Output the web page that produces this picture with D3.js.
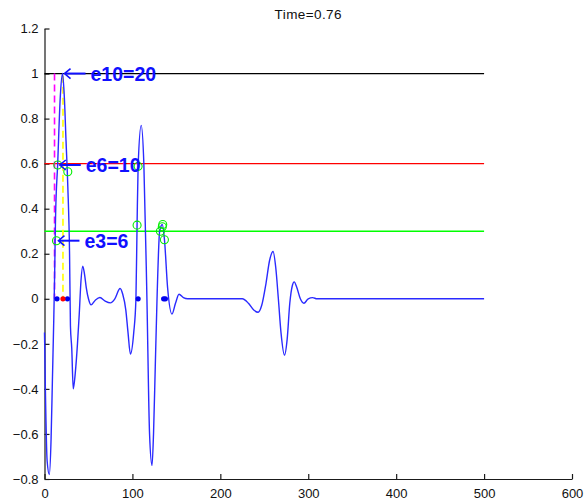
<!DOCTYPE html>
<html><head><meta charset="utf-8">
<script src="https://cdn.jsdelivr.net/npm/d3@7"></script>
<style>body{margin:0;background:#fff}svg{display:block}</style>
</head><body>
<script>
// ---- data ----
const sigX = [0,1,3,5.5,7.5,9,10.5,11.5,12.5,15,18,20.5,22.5,24.5,26.5,28.5,29.5,31,32.7,35,37.5,39.5,41.5,43.5,45.5,47.5,50,53,58,63,69,75,80,86,89,92.5,95,97.7,101.5,104,105.3,106.5,110,113,116.5,119.5,122.3,124,126,128,131,134,136.5,140,145,149,153,158,163,225,232,238,243,247,252,256,260,263,266,269,273,276,279,282,284,287,291,295,300,305,310,500];
const sigY = [-0.15,-0.4,-0.72,-0.78,-0.62,-0.36,-0.1,0.1,0.35,0.6,0.9,1.0,0.9,0.7,0.5,0.2,-0.12,-0.22,-0.4,-0.33,-0.2,-0.07,0.08,0.145,0.11,0.05,0.0,-0.027,-0.005,0.006,-0.01,-0.018,0.0,0.046,0.02,-0.05,-0.15,-0.245,-0.15,0.0,0.33,0.59,0.77,0.6,0.0,-0.6,-0.74,-0.6,-0.3,0.0,0.3,0.33,0.26,0.05,-0.068,-0.02,0.02,0.005,0,0,-0.02,-0.05,-0.06,-0.03,0.07,0.17,0.21,0.14,0.0,-0.15,-0.25,-0.18,-0.02,0.06,0.075,0.05,0.0,-0.02,0.0,0.005,0,0];
const levelValues = [1.0, 0.6, 0.3];
const levelColors = ["#000000", "#ff0000", "#00ff00"];
const levelEnd = 500;
const circX = [15.1,26.5,13.6,106.5,105.3,134.5,134.0,131.8,136.4];
const circY = [0.594,0.564,0.258,0.588,0.327,0.33,0.32,0.30,0.262];
const dotX = [14.2,26.1,106.5,135.5,137.5];
const redDotX = [21];
const vLineX = [11.4, 21];
const vLineTop = [1.0, 0.99];
const vLineColors = ["#ff00ff", "#ffff00"];
const annLabels = ["e10=20","e6=10","e3=6"];
const annX = [20.5,15.1,13.6];
const annY = [1.0,0.594,0.258];
const xTicks = [0,100,200,300,400,500,600];
const yTicks = [-0.8,-0.6,-0.4,-0.2,0,0.2,0.4,0.6,0.8,1,1.2];
const title = "Time=0.76";

// ---- chart ----
const W = 587, H = 504;
const svg = d3.select("body").append("svg").attr("width", W).attr("height", H);
const x = d3.scaleLinear().domain([0,600]).range([44.5,572]);
const y = d3.scaleLinear().domain([-0.8,1.2]).range([479,28.5]);
const font = "'Liberation Sans', Arial, Helvetica, sans-serif";

// axes
const xa = svg.append("g").attr("transform", `translate(0,${y(-0.8)})`)
  .call(d3.axisBottom(x).tickValues(xTicks).tickFormat(d3.format("d")).tickSizeInner(-5).tickSizeOuter(0).tickPadding(10));
const ya = svg.append("g").attr("transform", `translate(${x(0)},0)`)
  .call(d3.axisLeft(y).tickValues(yTicks).tickFormat(d => d3.format("~g")(d)).tickSizeInner(-5).tickSizeOuter(0).tickPadding(6));
[xa, ya].forEach(g => {
  g.selectAll("path,line").attr("stroke", "#1a1a1a").attr("stroke-width", 1.2);
  g.selectAll("text").attr("font-family", font).attr("font-size", 13).attr("fill", "#111");
});

// title
svg.append("text").attr("x", (x(0)+x(600))/2).attr("y", 19).attr("text-anchor","middle")
  .attr("font-family", font).attr("font-size", 13.5).attr("letter-spacing", 0.4).attr("fill","#111").text(title);

// level lines
svg.append("g").selectAll("line").data(levelValues).join("line")
  .attr("x1", x(0)).attr("x2", x(levelEnd))
  .attr("y1", d => y(d)).attr("y2", d => y(d))
  .attr("stroke", (d,i) => levelColors[i]).attr("stroke-width", 1.3);

// vertical dashed lines
svg.append("g").selectAll("line").data(vLineX).join("line")
  .attr("x1", d => x(d)).attr("x2", d => x(d))
  .attr("y1", (d,i) => y(vLineTop[i])).attr("y2", y(0))
  .attr("stroke", (d,i) => vLineColors[i]).attr("stroke-width", 1.6)
  .attr("stroke-dasharray", "7,4");

// signal
const pts = sigX.map((d,i) => [d, sigY[i]]);
svg.append("path").datum(pts)
  .attr("d", d3.line().x(d => x(d[0])).y(d => y(d[1])).curve(d3.curveMonotoneX))
  .attr("fill","none").attr("stroke","#2a2aff").attr("stroke-width",1.4);

// dots on zero line
svg.append("g").selectAll("circle").data(dotX).join("circle")
  .attr("cx", d => x(d)).attr("cy", y(0)).attr("r", 2.6).attr("fill", "#0000ee");
svg.append("g").selectAll("circle").data(redDotX).join("circle")
  .attr("cx", d => x(d)).attr("cy", y(0)).attr("r", 2.6).attr("fill", "#ff0000");

// green circles
svg.append("g").selectAll("circle").data(circX).join("circle")
  .attr("cx", d => x(d)).attr("cy", (d,i) => y(circY[i])).attr("r", 4)
  .attr("fill","none").attr("stroke","#00ee00").attr("stroke-width",1.1);

// annotations
const ann = svg.append("g");
annLabels.forEach((lab, i) => {
  const tx = x(annX[i]) + 2, ty = y(annY[i]);
  ann.append("line").attr("x1", tx+1).attr("x2", tx+21).attr("y1", ty).attr("y2", ty)
    .attr("stroke","#1010ff").attr("stroke-width",2);
  ann.append("path").attr("d", `M${tx+6},${ty-5} L${tx},${ty} L${tx+6},${ty+5}`)
    .attr("fill","none").attr("stroke","#1010ff").attr("stroke-width",1.6);
  ann.append("text").attr("x", tx+26).attr("y", ty).attr("dy","0.36em")
    .attr("font-family", font).attr("font-weight","bold").attr("font-size",19.5)
    .attr("fill","#1010ff").text(lab);
});
</script>
</body></html>
